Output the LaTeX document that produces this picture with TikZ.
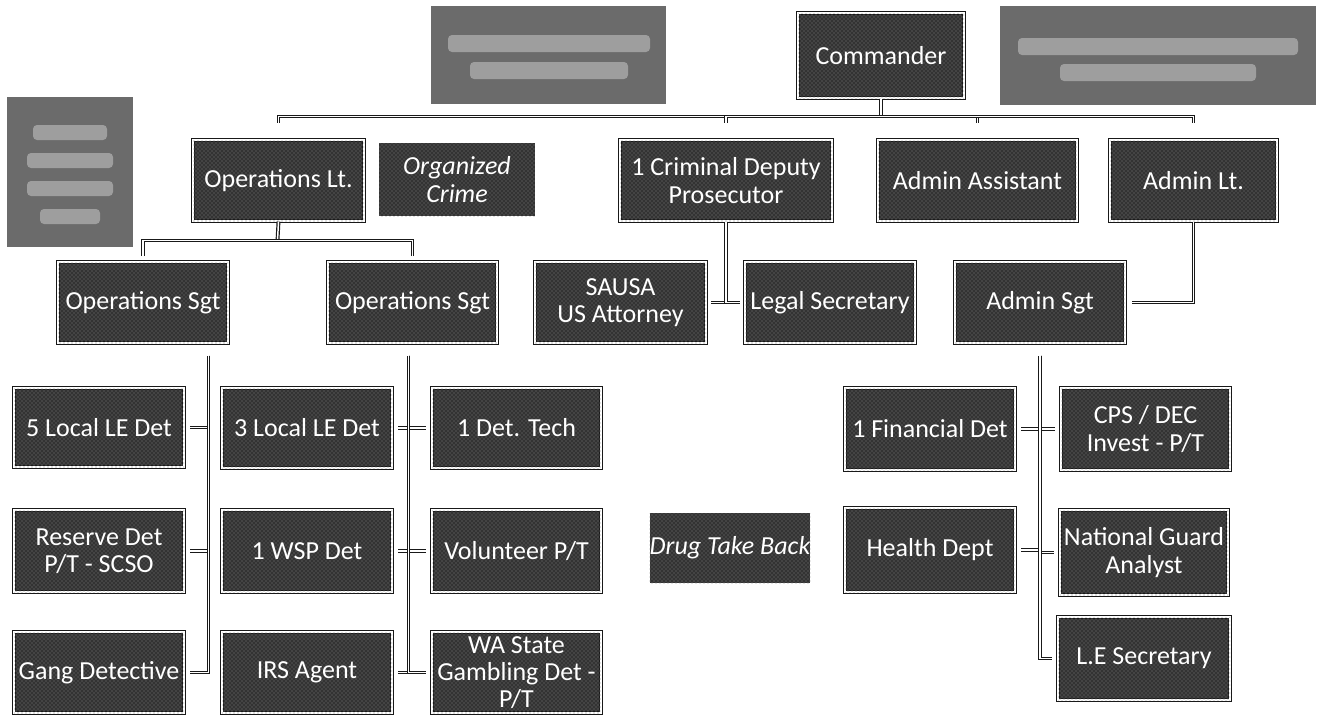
\documentclass[tikz,border=0pt]{standalone}
\usepackage{fontspec}
\setmainfont{Carlito}
\usetikzlibrary{patterns,calc}
\tikzset{
  orgstyle/.style={draw=black!90, line width=0.8pt, double=white, double distance=1.2pt,
    fill=black!80, text=white, align=center, inner sep=0pt,
    font=\fontsize{19.5}{20.5}\selectfont,
    postaction={pattern=crosshatch dots, pattern color=black!50}},
  plainstyle/.style={fill=black!80, text=white, align=center, inner sep=0pt,
    font=\fontsize{19.5}{20.5}\selectfont\itshape,
    postaction={pattern=crosshatch dots, pattern color=black!50}},
  blurstyle/.style={fill=black!58, draw=none},
  blurbar/.style={fill=black!38, draw=none, rounded corners=3pt},
  conn/.style={draw=black!90, line width=0.9pt, double=white, double distance=1.1pt},
}
\newcommand\orgbox[6]{\node[orgstyle, minimum width={(#4-#2)*0.75pt}, minimum height={(#5-#3)*0.75pt}]
  (#1) at ({(#2+#4)/2},{(#3+#5)/2}) {#6};}
\newcommand\plainbox[6]{\node[plainstyle, minimum width={(#4-#2)*0.75pt}, minimum height={(#5-#3)*0.75pt}]
  (#1) at ({(#2+#4)/2},{(#3+#5)/2}) {#6};}
\begin{document}
\begin{tikzpicture}[x=0.75pt,y=-0.75pt]
\useasboundingbox (0,0) rectangle (1318,719);
% blurred (illegible) boxes
\fill[blurstyle] (431,6) rectangle (666,104);
\fill[blurbar] (448,35) rectangle (650,52);
\fill[blurbar] (470,62) rectangle (628,79);
\fill[blurstyle] (1000,6) rectangle (1316,105);
\fill[blurbar] (1018,38) rectangle (1298,55);
\fill[blurbar] (1060,64) rectangle (1256,81);
\fill[blurstyle] (7,97) rectangle (133,247);
\fill[blurbar] (33,125) rectangle (107,140);
\fill[blurbar] (27,153) rectangle (113,168);
\fill[blurbar] (27,181) rectangle (113,196);
\fill[blurbar] (40,209) rectangle (100,224);

% top row
\orgbox{cmd}{798}{13}{964}{98}{Commander}
\orgbox{opslt}{193}{140}{364}{221}{Operations Lt.}
\plainbox{orgc}{379}{143}{535}{216}{Organized\\Crime}
\orgbox{crim}{620}{140}{832}{221}{1 Criminal Deputy\\Prosecutor}
\orgbox{adas}{878}{140}{1077}{221}{Admin Assistant}
\orgbox{adlt}{1110}{140}{1277}{221}{Admin Lt.}
% second row
\orgbox{sgta}{58}{262}{228}{343}{Operations Sgt}
\orgbox{sgtb}{328}{262}{497}{343}{Operations Sgt}
\orgbox{sausa}{535}{262}{706}{343}{SAUSA\\US Attorney}
\orgbox{legal}{745}{262}{915}{343}{Legal Secretary}
\orgbox{adsgt}{955}{262}{1125}{343}{Admin Sgt}
% operations staff
\orgbox{loc5}{14}{388}{184}{467}{5 Local LE Det}
\orgbox{loc3}{222}{388}{392}{468}{3 Local LE Det}
\orgbox{tech}{432}{388}{601}{468}{1 Det. Tech}
\orgbox{res}{14}{510}{184}{592}{Reserve Det\\P/T - SCSO}
\orgbox{wsp}{222}{510}{392}{592}{1 WSP Det}
\orgbox{vol}{432}{510}{601}{592}{Volunteer P/T}
\orgbox{gang}{14}{632}{184}{713}{Gang Detective}
\orgbox{irs}{222}{632}{392}{713}{IRS Agent}
\orgbox{wa}{432}{632}{601}{713}{WA State\\Gambling Det -\\P/T}
% admin staff
\orgbox{fin}{845}{388}{1015}{470}{1 Financial Det}
\orgbox{cps}{1061}{388}{1230}{470}{CPS / DEC\\Invest - P/T}
\plainbox{drug}{667}{513}{793}{583}{Drug Take Back}
\orgbox{health}{845}{508}{1015}{592}{Health Dept}
\orgbox{ng}{1060}{510}{1228}{595}{National Guard\\Analyst}
\orgbox{les}{1058}{617}{1230}{700}{L.E Secretary}

% connectors
\coordinate (hub) at ($(cmd.south)+(0,18)$);
\draw[conn] (cmd.south) -- (hub);
\foreach \t in {opslt,crim,adas,adlt}{
  \draw[conn, shorten >=12pt] (hub) -| (\t.north);
}
\coordinate (hubo) at ($(opslt.south)+(-1,19)$);
\draw[conn] (opslt.south) -- (hubo);
\draw[conn, shorten >=4pt] (hubo) -| (sgta.north);
\draw[conn, shorten >=4pt] (hubo) -| (sgtb.north);
\draw[conn, shorten >=3pt] (crim.south) |- (sausa.east);
\draw[conn, shorten >=3pt] (crim.south) |- (legal.west);
\draw[conn, shorten >=5pt] (adlt.south) |- (adsgt.east);

\coordinate (la) at ($(sgta.south east)+(-20,12)$);
\foreach \t in {loc5,res,gang}{ \draw[conn, shorten >=4pt] (la) |- (\t.east); }
\coordinate (lb) at ($(sgtb.south)+(-4,12)$);
\foreach \t in {loc3,wsp,irs}{ \draw[conn, shorten >=4pt] (lb) |- (\t.east); }
\foreach \t in {tech,vol,wa}{ \draw[conn, shorten >=4pt] (lb) |- (\t.west); }
\coordinate (lc) at ($(adsgt.south)+(0,12)$);
\foreach \t in {fin,health}{ \draw[conn, shorten >=4pt] (lc) |- (\t.east); }
\foreach \t in {cps,ng,les}{ \draw[conn, shorten >=4pt] (lc) |- (\t.west); }
\end{tikzpicture}
\end{document}
